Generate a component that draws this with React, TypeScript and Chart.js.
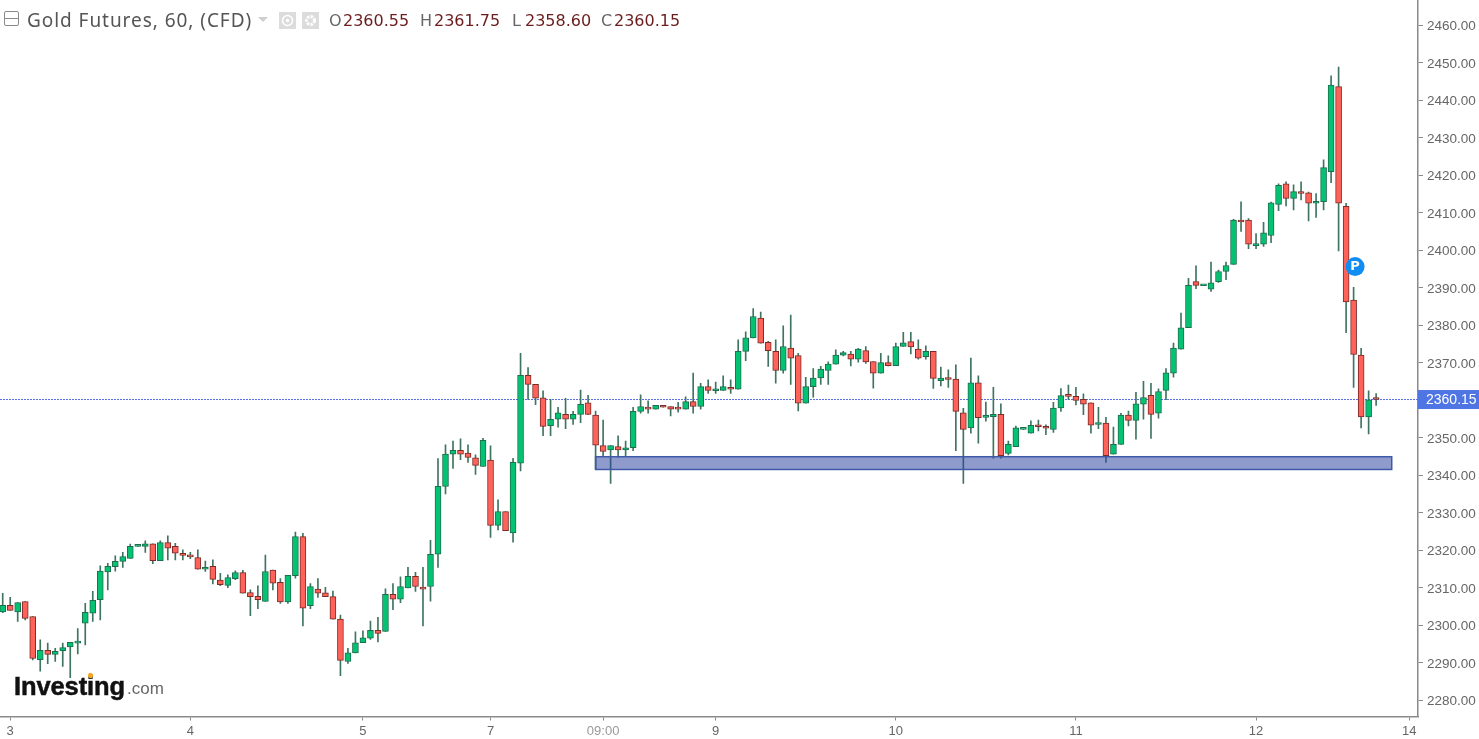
import { useEffect, useRef } from "react";
import { Chart, registerables } from "chart.js";

Chart.register(...registerables);

const opens = [
  2303.5,2305.3,2303.5,2306.3,2302.3,2290.8,2293.3,2292.2,2293.2,2294.2,
  2295.2,2300.5,2303.2,2306.8,2314.2,2315.6,2317.0,2317.8,2321.0,2321.0,
  2321.7,2317.2,2322.0,2321.0,2319.0,2318.7,2318.0,2314.9,2315.7,2312.0,
  2310.6,2312.4,2314.0,2308.7,2307.7,2306.3,2314.7,2311.4,2306.2,2313.2,
  2323.6,2305.2,2309.6,2308.6,2307.6,2301.6,2290.3,2292.6,2295.3,2296.5,
  2298.6,2298.3,2308.2,2306.9,2309.9,2313.0,2310.0,2310.3,2318.9,2337.0,
  2345.6,2346.6,2345.9,2344.6,2342.3,2344.0,2326.6,2330.3,2324.6,2343.2,
  2366.6,2364.2,2360.6,2353.2,2354.9,2356.2,2354.9,2356.2,2359.3,2356.0,
  2347.9,2346.7,2347.6,2346.7,2347.3,2357.0,2357.9,2357.6,2358.4,2358.3,
  2357.9,2357.6,2359.6,2358.3,2363.6,2362.5,2362.6,2363.3,2362.9,2373.0,
  2376.6,2381.9,2375.4,2373.0,2367.9,2373.9,2371.9,2359.2,2363.6,2365.9,
  2367.9,2369.6,2372.0,2372.3,2370.9,2373.2,2370.3,2367.2,2370.0,2369.2,
  2374.3,2375.6,2373.6,2371.6,2373.0,2365.2,2365.9,2365.6,2356.6,2352.6,
  2364.6,2355.4,2355.6,2356.2,2345.8,2347.6,2352.2,2351.2,2353.3,2353.0,
  2352.2,2357.9,2361.3,2361.0,2360.2,2359.3,2353.5,2353.9,2345.6,2348.2,
  2356.0,2354.6,2358.9,2361.3,2356.5,2362.6,2367.2,2373.6,2379.3,2391.6,
  2390.5,2389.6,2391.6,2394.3,2396.2,2408.0,2408.0,2401.2,2401.6,2403.9,
  2412.2,2417.7,2413.8,2415.4,2415.3,2412.5,2412.9,2420.9,2443.6,2411.7,
  2386.7,2372.0,2355.5,2360.55,
];

const closes = [
  2305.3,2303.9,2306.0,2301.8,2291.1,2293.3,2292.2,2293.0,2294.0,2295.4,
  2295.7,2303.4,2306.6,2314.4,2315.7,2317.0,2318.3,2321.0,2321.3,2321.7,
  2317.2,2322.0,2320.5,2319.2,2318.6,2318.2,2314.9,2315.4,2312.2,2310.8,
  2312.7,2314.0,2308.5,2307.6,2306.8,2314.3,2311.2,2306.2,2313.3,2323.6,
  2304.5,2310.3,2308.5,2307.6,2301.6,2290.6,2292.6,2295.3,2296.6,2298.6,
  2297.8,2308.2,2306.9,2310.3,2313.0,2310.3,2309.6,2318.9,2337.0,2345.6,
  2346.6,2345.6,2344.7,2342.6,2349.3,2326.6,2330.3,2325.2,2343.4,2366.6,
  2364.2,2360.5,2353.0,2354.9,2356.6,2354.9,2356.2,2358.9,2356.2,2348.0,
  2346.3,2347.9,2346.7,2347.3,2357.0,2358.3,2357.6,2358.6,2358.1,2357.6,
  2357.6,2359.6,2358.3,2363.6,2362.6,2362.7,2363.6,2362.9,2373.0,2376.6,
  2382.3,2375.2,2373.2,2367.9,2374.3,2371.2,2359.2,2363.6,2365.9,2368.3,
  2369.6,2372.0,2372.7,2370.9,2373.6,2370.2,2367.2,2370.0,2369.2,2374.3,
  2375.3,2374.2,2371.2,2373.0,2365.8,2365.9,2365.5,2357.0,2352.2,2364.6,
  2355.3,2355.7,2356.2,2345.2,2348.2,2352.6,2352.3,2353.3,2352.9,2352.5,
  2357.9,2361.2,2361.0,2359.9,2358.9,2353.3,2353.9,2345.2,2348.2,2356.0,
  2354.6,2359.0,2360.7,2356.2,2362.3,2367.3,2373.9,2379.3,2390.6,2390.6,
  2390.7,2391.3,2394.3,2395.9,2408.0,2407.5,2401.6,2401.7,2404.6,2412.6,
  2417.3,2413.8,2415.6,2415.1,2412.5,2413.0,2422.0,2444.0,2412.5,2386.2,
  2372.2,2355.5,2360.1,2360.15,
];

const highs = [
  2308.5,2307.4,2306.0,2306.3,2302.3,2296.1,2295.2,2293.8,2295.2,2295.4,
  2299.1,2305.8,2309.0,2315.8,2316.5,2318.5,2319.4,2321.6,2321.3,2322.5,
  2321.7,2322.5,2323.8,2321.8,2320.1,2319.4,2320.1,2317.1,2317.4,2313.8,
  2313.4,2314.5,2314.6,2309.4,2310.5,2318.7,2314.7,2312.4,2313.3,2324.8,
  2324.5,2311.1,2312.4,2310.1,2309.1,2302.7,2293.8,2298.2,2298.5,2301.1,
  2302.1,2309.7,2311.1,2312.9,2315.4,2314.1,2315.4,2322.6,2344.4,2348.1,
  2349.1,2349.7,2348.1,2345.4,2349.8,2347.8,2333.4,2330.3,2344.5,2372.5,
  2368.7,2364.2,2362.5,2360.2,2358.1,2360.5,2357.0,2362.7,2361.3,2357.1,
  2354.7,2347.9,2350.5,2349.1,2358.1,2361.4,2359.8,2358.6,2358.4,2358.3,
  2359.4,2360.9,2367.2,2364.5,2365.4,2364.8,2366.5,2365.4,2376.1,2378.2,
  2384.4,2383.5,2375.7,2376.1,2379.8,2382.7,2372.5,2366.1,2368.4,2369.0,
  2370.2,2373.4,2373.0,2373.0,2373.8,2374.3,2370.3,2372.5,2371.8,2375.2,
  2378.1,2378.1,2376.1,2374.5,2373.0,2368.8,2368.1,2369.4,2357.8,2371.2,
  2366.5,2359.5,2363.4,2359.0,2349.1,2353.1,2352.3,2354.5,2354.7,2353.4,
  2359.4,2363.1,2364.0,2363.4,2361.7,2359.3,2358.1,2355.4,2352.8,2356.5,
  2357.1,2362.1,2365.0,2364.5,2363.0,2368.4,2375.2,2383.2,2392.5,2395.8,
  2390.7,2396.8,2394.7,2396.8,2408.2,2412.9,2408.4,2404.4,2407.4,2412.8,
  2417.7,2418.2,2417.4,2418.2,2415.5,2415.1,2424.1,2446.5,2448.8,2412.5,
  2390.1,2373.8,2362.5,2361.75,
];

const lows = [
  2303.3,2303.9,2301.0,2301.4,2290.7,2287.7,2289.7,2290.3,2289.0,2286.0,
  2292.3,2294.7,2301.0,2301.4,2309.4,2314.4,2315.4,2317.8,2321.0,2319.4,
  2316.4,2317.2,2317.4,2317.4,2317.4,2317.7,2314.9,2314.3,2311.0,2310.5,
  2310.0,2312.1,2308.5,2302.5,2304.4,2306.3,2309.4,2305.8,2305.8,2312.5,
  2299.8,2304.4,2307.4,2307.6,2301.6,2286.5,2289.8,2292.6,2295.3,2296.2,
  2295.5,2298.3,2304.1,2306.0,2309.9,2309.0,2299.8,2306.4,2315.4,2335.0,
  2341.8,2344.1,2343.4,2340.2,2342.3,2323.4,2325.4,2325.2,2322.1,2341.1,
  2360.2,2358.8,2350.5,2350.5,2352.8,2352.4,2353.5,2354.0,2356.1,2341.6,
  2345.1,2337.8,2344.8,2345.1,2346.5,2356.5,2356.5,2357.6,2358.1,2355.8,
  2356.8,2357.6,2356.5,2357.6,2361.8,2361.8,2362.6,2361.8,2362.9,2370.5,
  2376.6,2375.2,2369.0,2364.5,2367.2,2364.2,2357.1,2359.2,2360.8,2364.2,
  2364.2,2369.6,2371.8,2369.1,2370.1,2369.8,2363.2,2367.2,2369.1,2369.2,
  2374.3,2372.3,2370.9,2370.9,2363.1,2363.8,2363.4,2346.5,2337.8,2351.2,
  2348.5,2354.4,2344.5,2344.5,2345.4,2347.6,2352.2,2351.2,2351.8,2350.8,
  2351.4,2357.0,2360.2,2358.7,2356.1,2351.2,2352.4,2343.4,2345.6,2348.2,
  2353.1,2349.6,2354.9,2349.8,2355.2,2360.1,2366.1,2373.6,2379.3,2389.7,
  2390.5,2389.0,2391.4,2392.1,2396.2,2405.0,2400.4,2400.4,2401.0,2402.0,
  2410.5,2411.8,2410.7,2413.4,2407.8,2408.7,2410.7,2418.0,2399.8,2378.0,
  2363.4,2352.6,2351.0,2358.6,
];

const xTickValues = [1, 25, 48, 65, 80, 95, 119, 143, 167, 187.4];
const xTickLabels = ["3", "4", "5", "7", "09:00", "9", "10", "11", "12", "14"];

const lastPrice = 2360.15;
const zoneIndex = [79, 185.08];
const zonePrice = [2341.5, 2344.9];
const pivotMark = { index: 180.2, price: 2395.6 };

const ohlcItems = [
  { key: "O", value: "2360.55", keyX: 329, valueX: 343 },
  { key: "H", value: "2361.75", keyX: 420, valueX: 434 },
  { key: "L", value: "2358.60", keyX: 512, valueX: 525 },
  { key: "C", value: "2360.15", keyX: 601, valueX: 614 },
];

const GREEN = "#03c373";
const GREEN_EDGE = "#1c6e4e";
const RED = "#ff6258";
const RED_EDGE = "#7c2a28";
const WICK = "#3f7560";
const AXIS = "#8a8a8a";
const LABEL = "#666666";

// last price line, zone box, P marker and price tag are not datasets
const overlays = {
  id: "overlays",
  beforeDatasetsDraw(chart: any) {
    const { ctx, chartArea, scales } = chart;
    const y = Math.round(scales.y.getPixelForValue(lastPrice) - 0.5) + 0.5;
    ctx.save();
    ctx.strokeStyle = "#5a70e0";
    ctx.lineWidth = 1;
    ctx.setLineDash([2, 1]);
    ctx.beginPath();
    ctx.moveTo(chartArea.left, y);
    ctx.lineTo(chartArea.right, y);
    ctx.stroke();
    ctx.restore();
  },
  afterDatasetsDraw(chart: any) {
    const { ctx, scales } = chart;
    const left = scales.x.getPixelForValue(zoneIndex[0]);
    const right = scales.x.getPixelForValue(zoneIndex[1]);
    const top = scales.y.getPixelForValue(zonePrice[1]);
    const bottom = scales.y.getPixelForValue(zonePrice[0]);
    ctx.save();
    ctx.fillStyle = "rgba(41, 66, 158, 0.53)";
    ctx.fillRect(left, top, right - left, bottom - top);
    ctx.strokeStyle = "#3f58a8";
    ctx.lineWidth = 1.5;
    ctx.strokeRect(left, top, right - left, bottom - top);

    const px = scales.x.getPixelForValue(pivotMark.index);
    const py = scales.y.getPixelForValue(pivotMark.price);
    ctx.fillStyle = "#0f8df2";
    ctx.beginPath();
    ctx.arc(px, py, 9.5, 0, Math.PI * 2);
    ctx.fill();
    ctx.fillStyle = "#ffffff";
    ctx.font = 'bold 13px "DejaVu Sans"';
    ctx.textAlign = "center";
    ctx.textBaseline = "middle";
    ctx.fillText("P", px, py);
    ctx.restore();
  },
  afterDraw(chart: any) {
    const { ctx, chartArea, scales, width } = chart;
    ctx.save();
    ctx.textAlign = "left";
    ctx.textBaseline = "middle";

    // y labels sit a little under their ticks in the original
    ctx.fillStyle = LABEL;
    ctx.font = '13.5px "Liberation Sans"';
    for (const tick of scales.y.ticks) {
      ctx.fillText(tick.value.toFixed(2), 1427, scales.y.getPixelForValue(tick.value) + 1.5);
    }

    const y = scales.y.getPixelForValue(lastPrice);
    ctx.fillStyle = "#4f74e3";
    ctx.fillRect(chartArea.right, y - 9.5, width - chartArea.right, 19);
    ctx.fillStyle = "#ffffff";
    ctx.font = '14px "Liberation Sans"';
    ctx.fillText(lastPrice.toFixed(2), 1426, y + 0.5);
    ctx.restore();
  },
};

function CandleChart() {
  const canvasRef = useRef<HTMLCanvasElement>(null);

  useEffect(() => {
    const ctx = canvasRef.current?.getContext("2d");
    if (!ctx) return;

    const isUp = (i: number) => closes[i] >= opens[i];

    const chart = new Chart(ctx, {
      type: "bar",
      data: {
        datasets: [
          {
            label: "Bodies",
            data: opens.map((o, i) => ({ x: i, y: [o, closes[i]] })),
            backgroundColor: opens.map((_, i) => (isUp(i) ? GREEN : RED)),
            borderColor: opens.map((_, i) => (isUp(i) ? GREEN_EDGE : RED_EDGE)),
            borderWidth: 1,
            borderSkipped: false,
            barThickness: 6,
            minBarLength: 2,
            grouped: false,
            order: 1,
          },
          {
            label: "Wicks",
            data: lows.map((l, i) => ({ x: i, y: [l, highs[i]] })),
            backgroundColor: WICK,
            barThickness: 1,
            grouped: false,
            order: 2,
          },
        ],
      } as any,
      options: {
        responsive: false,
        animation: false,
        layout: { padding: 0 },
        plugins: {
          legend: { display: false },
          tooltip: { enabled: false },
        },
        scales: {
          x: {
            type: "linear",
            offset: false,
            min: -0.36,
            max: 188.58,
            border: { color: AXIS, width: 1.5 },
            grid: { offset: false, drawOnChartArea: false, tickLength: 4, tickColor: AXIS },
            afterBuildTicks: (axis: any) => {
              axis.ticks = xTickValues.map((value) => ({ value }));
            },
            afterFit: (axis: any) => {
              axis.height = 22.5;
              axis.paddingLeft = 0;
              axis.paddingRight = 0;
            },
            ticks: {
              autoSkip: false,
              maxRotation: 0,
              padding: 3,
              font: { family: "Liberation Sans", size: 13 },
              color: (c: any) => (c.tick?.label === "09:00" ? "#9a9a9a" : LABEL),
              callback: (value: any) => xTickLabels[xTickValues.indexOf(value)] ?? "",
            },
          },
          y: {
            position: "right",
            min: 2275.63,
            max: 2466.69,
            border: { color: AXIS, width: 1.5 },
            grid: { drawOnChartArea: false, tickLength: 5, tickColor: AXIS },
            afterFit: (axis: any) => {
              axis.width = 61;
              axis.paddingTop = 0;
              axis.paddingBottom = 0;
            },
            ticks: {
              stepSize: 10,
              includeBounds: false,
              display: false,
            },
          },
        },
      } as any,
      plugins: [overlays],
    });

    return () => {
      chart.destroy();
    };
  }, []);

  return <canvas ref={canvasRef} width={1479} height={739} style={{ display: "block" }} />;
}

const textAt = (x: number, y: number): any => ({
  position: "absolute",
  left: x,
  top: y,
  whiteSpace: "nowrap",
});

export default function App() {
  return (
    <div style={{ position: "fixed", inset: 0, width: 1479, height: 739, background: "#fff", overflow: "hidden" }}>
      <CandleChart />

      {/* collapse button */}
      <div style={{ position: "absolute", left: 4, top: 11, width: 13, height: 13, border: "1.5px solid #8a8a8a", borderRadius: 2 }}>
        <div style={{ position: "absolute", left: 0, right: 0, top: 6, height: 1, background: "#8a8a8a" }} />
      </div>
      <div style={{ ...textAt(27, 11), font: '19px/1 "Noto Sans"', color: "#555555", letterSpacing: 0.95 }}>
        Gold Futures, 60, (CFD)
      </div>
      <div style={{ position: "absolute", left: 258, top: 17, width: 0, height: 0, borderLeft: "5px solid transparent", borderRight: "5px solid transparent", borderTop: "5px solid #cfcfcf" }} />

      {/* eye and gear buttons */}
      <svg style={{ position: "absolute", left: 279, top: 12 }} width={40} height={17}>
        <rect x={0} y={0} width={17} height={17} fill="#dcdcdc" />
        <circle cx={8.5} cy={8.5} r={5} fill="none" stroke="#fff" strokeWidth={1.5} />
        <circle cx={8.5} cy={8.5} r={1.8} fill="#fff" />
        <rect x={23} y={0} width={17} height={17} fill="#dcdcdc" />
        <circle cx={31.5} cy={8.5} r={4} fill="none" stroke="#fff" strokeWidth={3} strokeDasharray="2.5 1.2" />
      </svg>

      {ohlcItems.map((item) => (
        <div key={item.key}>
          <div style={{ ...textAt(item.keyX, 13), font: '16px/1 "DejaVu Sans"', color: "#666666" }}>{item.key}</div>
          <div style={{ ...textAt(item.valueX, 13), font: '16px/1 "DejaVu Sans"', color: "#6b1c1c" }}>{item.value}</div>
        </div>
      ))}

      {/* watermark */}
      <div style={{ ...textAt(14, 674), font: 'bold 25.5px/1 "Liberation Sans"', color: "#111111", WebkitTextStroke: "0.5px #111111", letterSpacing: -0.1 }}>
        Investing
      </div>
      <div style={{ position: "absolute", left: 88, top: 673, width: 5, height: 5, background: "#f5a623", borderRadius: 2, transform: "rotate(20deg)" }} />
      <div style={{ ...textAt(127, 680), font: '17px/1 "Liberation Sans"', color: "#666666" }}>.com</div>
    </div>
  );
}
